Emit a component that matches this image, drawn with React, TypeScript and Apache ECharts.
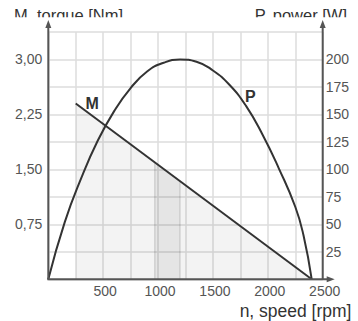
import { useEffect, useRef } from 'react';
import * as echarts from 'echarts';

// Torque line M (speed rpm, torque Nm)
const speedM = [250, 2400];
const torqueM = [2.4, 0];
// Darker band under M
const bandSpeed = [970, 1200];
const bandTorque = [1.6, 1.34];
// Power curve P (speed rpm, power W)
const speedP = [0, 150, 300, 450, 600, 750, 900, 1050, 1200, 1350, 1500, 1650, 1800, 1950, 2100, 2250, 2325, 2400];
const powerP = [0, 52, 92, 126, 153, 174, 189, 197, 200, 198, 190, 177, 158, 132, 101, 66, 40, 0];
// Axis ranges / ticks
const speedMax = 2500;
const speedStep = 250;
const torqueMax = 3.375;
const torqueStep = 0.375;
const powerMax = 225;
const powerStep = 25;
// Curve labels positions (data coords)
const labelM = [400, 2.4];
const labelP = [1840, 166];

const FONT = '"Liberation Sans", Arial, Helvetica, sans-serif';
const AXIS_COL = '#555';

export default function App() {
  const ref = useRef<HTMLDivElement>(null);
  useEffect(() => {
    const el = ref.current!;
    const chart = echarts.init(el, null, { renderer: 'svg' });
    const zip = (a: number[], b: number[]) => a.map((v, i) => [v, b[i]]);
    chart.setOption({
      animation: false,
      backgroundColor: '#fff',
      grid: { left: 48.3, top: 32, width: 274.4, height: 247.3, containLabel: false, outerBoundsMode: 'none' },
      xAxis: {
        type: 'value', min: 0, max: speedMax, interval: speedStep,
        axisLine: { show: false }, axisTick: { show: false },
        axisLabel: {
          color: AXIS_COL, fontSize: 14, fontFamily: FONT, margin: 5, padding: [0, 0, 0, 4],
          formatter: (v: number) => (v > 0 && v % 500 === 0 ? String(v) : ''),
        },
        splitLine: { show: true, lineStyle: { color: '#dcdcdc', width: 1.5 } },
      },
      yAxis: [
        {
          type: 'value', min: 0, max: torqueMax, interval: torqueStep,
          axisLine: { show: false }, axisTick: { show: false },
          axisLabel: {
            color: AXIS_COL, fontSize: 14, fontFamily: FONT, margin: 6,
            formatter: (v: number) => {
              const k = Math.round(v / torqueStep);
              return k > 0 && k % 2 === 0 && k < 9 ? v.toFixed(2).replace('.', ',') : '';
            },
          },
          splitLine: { show: true, lineStyle: { color: '#dcdcdc', width: 1.5 } },
        },
        {
          type: 'value', min: 0, max: powerMax, interval: powerStep, position: 'right',
          axisLine: { show: false }, axisTick: { show: false },
          axisLabel: {
            color: AXIS_COL, fontSize: 14, fontFamily: FONT, margin: 3,
            formatter: (v: number) => (v > 0 && v < powerMax ? String(v) : ''),
          },
          splitLine: { show: false },
        },
      ],
      series: [
        {
          type: 'line', yAxisIndex: 0, data: zip(bandSpeed, bandTorque), symbol: 'none',
          lineStyle: { width: 0 }, areaStyle: { color: 'rgba(0,0,0,0.08)' }, z: 2, silent: true,
        },
        {
          type: 'line', yAxisIndex: 0, data: [[bandSpeed[0], 0], [bandSpeed[0], bandTorque[0]]], symbol: 'none',
          lineStyle: { color: 'rgba(0,0,0,0.12)', width: 1.5 }, z: 2, silent: true,
        },
        {
          type: 'line', yAxisIndex: 0, data: [[bandSpeed[1], 0], [bandSpeed[1], bandTorque[1]]], symbol: 'none',
          lineStyle: { color: 'rgba(0,0,0,0.12)', width: 1.5 }, z: 2, silent: true,
        },
        {
          type: 'line', yAxisIndex: 0, data: zip(speedM, torqueM), symbol: 'none',
          lineStyle: { color: '#333', width: 2 }, areaStyle: { color: 'rgba(0,0,0,0.065)' }, z: 3,
        },
        {
          type: 'line', yAxisIndex: 1, data: zip(speedP, powerP), symbol: 'none', smooth: 0.5,
          lineStyle: { color: '#333', width: 2 }, z: 4,
        },
      ],
    });

    const o = chart.convertToPixel({ xAxisIndex: 0, yAxisIndex: 0 }, [0, 0]) as number[];
    const tr = chart.convertToPixel({ xAxisIndex: 0, yAxisIndex: 0 }, [speedMax, torqueMax]) as number[];
    const mp = chart.convertToPixel({ xAxisIndex: 0, yAxisIndex: 0 }, labelM) as number[];
    const pp = chart.convertToPixel({ xAxisIndex: 0, yAxisIndex: 1 }, labelP) as number[];
    const tipY = tr[1] - 12;
    const lineStyle = { stroke: AXIS_COL, lineWidth: 2 };
    const arrowUp = (x: number) => ({
      type: 'polygon', z: 20,
      shape: { points: [[x, tipY], [x - 3, tipY + 8], [x + 3, tipY + 8]] },
      style: { fill: AXIS_COL },
    });
    const xEnd = tr[0] + 12;
    chart.setOption({
      graphic: [
        { type: 'text', z: 10, style: { x: 14, y: 23.5, text: 'M, torque [Nm]', fontSize: 16.5, fontFamily: FONT, fill: '#333', align: 'left', verticalAlign: 'bottom' } },
        { type: 'text', z: 10, style: { x: 347, y: 23.5, text: 'P, power [W]', fontSize: 16.5, fontFamily: FONT, fill: '#333', align: 'right', verticalAlign: 'bottom' } },
        { type: 'rect', z: 11, shape: { x: 0, y: 17.3, width: 358, height: 10 }, style: { fill: '#fff' } },
        { type: 'text', z: 10, style: { x: 351.5, y: 319.5, text: 'n, speed [rpm]', fontSize: 17.5, fontFamily: FONT, fill: '#333', align: 'right', verticalAlign: 'bottom' } },
        { type: 'line', z: 20, shape: { x1: o[0], y1: o[1], x2: o[0], y2: tipY + 6 }, style: lineStyle },
        arrowUp(o[0]),
        { type: 'line', z: 20, shape: { x1: tr[0], y1: o[1], x2: tr[0], y2: tipY + 6 }, style: lineStyle },
        arrowUp(tr[0]),
        { type: 'line', z: 20, shape: { x1: o[0] - 1, y1: o[1], x2: xEnd - 6, y2: o[1] }, style: lineStyle },
        { type: 'polygon', z: 20, shape: { points: [[xEnd, o[1]], [xEnd - 8, o[1] - 3], [xEnd - 8, o[1] + 3]] }, style: { fill: AXIS_COL } },
        { type: 'text', z: 20, style: { x: mp[0], y: mp[1], text: 'M', fontSize: 16, fontWeight: 'bold', fontFamily: FONT, fill: '#333', align: 'center', verticalAlign: 'middle' } },
        { type: 'text', z: 20, style: { x: pp[0], y: pp[1], text: 'P', fontSize: 16, fontWeight: 'bold', fontFamily: FONT, fill: '#333', align: 'center', verticalAlign: 'middle' } },
      ],
    });
    return () => chart.dispose();
  }, []);
  return <div ref={ref} style={{ position: 'fixed', left: 0, top: 0, width: 358, height: 321 }} />;
}
